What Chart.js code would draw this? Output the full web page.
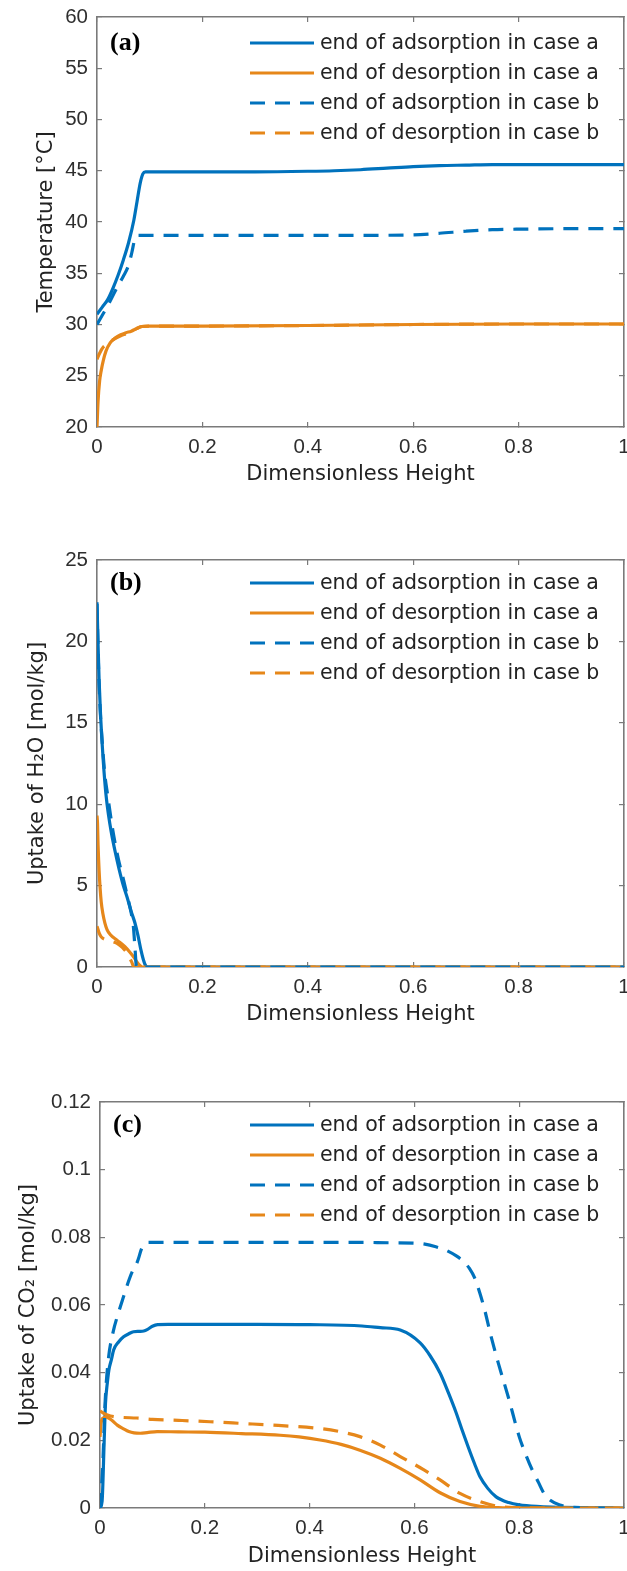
<!DOCTYPE html>
<html>
<head>
<meta charset="utf-8">
<script src="https://cdn.jsdelivr.net/npm/chart.js@4"></script>
<style>
html,body{margin:0;padding:0;background:#fff;}
#wrap{position:relative;width:627px;height:1571px;overflow:hidden;background:#fff;}
canvas{position:absolute;left:0;}
</style>
</head>
<body>
<div id="wrap">
<canvas id="ca" width="627" height="510" style="top:0px;width:627px;height:510px"></canvas>
<canvas id="cb" width="627" height="530" style="top:510px;width:627px;height:530px"></canvas>
<canvas id="cc" width="627" height="531" style="top:1040px;width:627px;height:531px"></canvas>
</div>
<script>
// ---------- tick labels ----------
const xTickValues = [0, 0.2, 0.4, 0.6, 0.8, 1];
const xTickLabels = ['0', '0.2', '0.4', '0.6', '0.8', '1'];
const tempTickValues = [20, 25, 30, 35, 40, 45, 50, 55, 60];
const tempTickLabels = ['20', '25', '30', '35', '40', '45', '50', '55', '60'];
const h2oTickValues = [0, 5, 10, 15, 20, 25];
const h2oTickLabels = ['0', '5', '10', '15', '20', '25'];
const co2TickValues = [0, 0.02, 0.04, 0.06, 0.08, 0.1, 0.12];
const co2TickLabels = ['0', '0.02', '0.04', '0.06', '0.08', '0.1', '0.12'];

// ---------- series names ----------
const seriesLabels = [
  'end of adsorption in case a',
  'end of desorption in case a',
  'end of adsorption in case b',
  'end of desorption in case b'
];

// ---------- (a) temperature ----------
const tempAdsA_x = [0, 0.01, 0.02, 0.03, 0.04, 0.05, 0.06, 0.07, 0.076, 0.082, 0.087, 0.092, 0.1, 0.2, 0.3, 0.4, 0.45, 0.5, 0.55, 0.6, 0.65, 0.7, 0.75, 0.8, 0.9, 1];
const tempAdsA_y = [31.0, 31.7, 32.4, 33.5, 34.8, 36.3, 38.0, 40.2, 42.0, 43.8, 44.7, 44.9, 44.9, 44.9, 44.9, 44.95, 45.0, 45.1, 45.25, 45.4, 45.5, 45.55, 45.6, 45.6, 45.6, 45.6];
const tempDesA_x = [0, 0.002, 0.005, 0.008, 0.012, 0.017, 0.025, 0.035, 0.045, 0.055, 0.065, 0.075, 0.085, 0.1, 0.2, 0.4, 0.6, 0.8, 1];
const tempDesA_y = [20.0, 22.5, 24.5, 25.5, 26.5, 27.4, 28.2, 28.7, 29.0, 29.2, 29.35, 29.6, 29.8, 29.85, 29.85, 29.9, 30.0, 30.05, 30.05];
const tempAdsB_x = [0, 0.01, 0.02, 0.03, 0.04, 0.05, 0.06, 0.066, 0.072, 0.077, 0.1, 0.2, 0.3, 0.4, 0.5, 0.6, 0.65, 0.7, 0.75, 0.8, 0.9, 1];
const tempAdsB_y = [30.0, 30.9, 31.8, 32.8, 33.8, 34.7, 35.8, 37.0, 38.4, 38.7, 38.7, 38.7, 38.7, 38.7, 38.7, 38.75, 38.9, 39.1, 39.25, 39.3, 39.35, 39.35];
const tempDesB_x = [0, 0.005, 0.012, 0.02, 0.03, 0.045, 0.06, 0.075, 0.085, 0.1, 0.2, 0.4, 0.6, 0.8, 1];
const tempDesB_y = [26.6, 27.2, 27.8, 28.1, 28.5, 28.9, 29.2, 29.6, 29.8, 29.85, 29.85, 29.9, 30.0, 30.05, 30.05];

// ---------- (b) H2O uptake ----------
const h2oAdsA_x = [0, 0.002, 0.004, 0.007, 0.012, 0.017, 0.022, 0.027, 0.035, 0.042, 0.05, 0.057, 0.065, 0.072, 0.078, 0.083, 0.088, 0.092, 0.095, 0.1, 0.2, 0.4, 0.6, 0.8, 1];
const h2oAdsA_y = [22.4, 19.8, 17.6, 15.3, 12.6, 10.6, 9.3, 8.3, 7.0, 6.0, 5.0, 4.3, 3.4, 2.7, 1.9, 1.1, 0.45, 0.1, 0, 0, 0, 0, 0, 0, 0];
const h2oDesA_x = [0, 0.001, 0.002, 0.004, 0.006, 0.008, 0.011, 0.015, 0.019, 0.025, 0.038, 0.053, 0.064, 0.07, 0.076, 0.082, 0.086, 0.1, 0.2, 0.4, 0.6, 0.8, 1];
const h2oDesA_y = [9.3, 8.8, 7.5, 5.9, 4.8, 4.0, 3.3, 2.7, 2.3, 2.0, 1.65, 1.25, 0.85, 0.6, 0.3, 0.08, 0, 0, 0, 0, 0, 0, 0];
const h2oAdsB_x = [0, 0.002, 0.005, 0.01, 0.015, 0.02, 0.03, 0.04, 0.05, 0.058, 0.065, 0.069, 0.072, 0.075, 0.1, 0.2, 0.4, 0.6, 0.8, 1];
const h2oAdsB_y = [22.3, 19.5, 16.5, 13.8, 11.8, 10.6, 8.4, 6.7, 5.4, 4.3, 3.3, 2.5, 1.2, 0, 0, 0, 0, 0, 0, 0];
const h2oDesB_x = [0, 0.004, 0.008, 0.015, 0.025, 0.038, 0.048, 0.057, 0.062, 0.066, 0.07, 0.1, 0.2, 0.4, 0.6, 0.8, 1];
const h2oDesB_y = [2.5, 2.1, 1.85, 1.7, 1.6, 1.45, 1.2, 0.85, 0.55, 0.3, 0, 0, 0, 0, 0, 0, 0];

// ---------- (c) CO2 uptake ----------
const co2AdsA_x = [0, 0.004, 0.008, 0.0105, 0.014, 0.017, 0.022, 0.026, 0.035, 0.045, 0.055, 0.064, 0.075, 0.0835, 0.09, 0.1, 0.11, 0.13, 0.2, 0.3, 0.4, 0.5, 0.535, 0.573, 0.611, 0.63, 0.649, 0.665, 0.68, 0.69, 0.7025, 0.715, 0.725, 0.74, 0.756, 0.78, 0.8, 0.84, 0.88, 0.92, 1];
const co2AdsA_y = [0, 0.002, 0.02, 0.031, 0.037, 0.0408, 0.044, 0.0467, 0.049, 0.0506, 0.0515, 0.0521, 0.0522, 0.0523, 0.0527, 0.0537, 0.0542, 0.0543, 0.0543, 0.0543, 0.0542, 0.0538, 0.0533, 0.0526, 0.0488, 0.045, 0.0399, 0.034, 0.028, 0.0235, 0.0181, 0.013, 0.0093, 0.0058, 0.0033, 0.0016, 0.0009, 0.0004, 0.0002, 0.0001, 0];
const co2DesA_x = [0, 0.002, 0.005, 0.013, 0.022, 0.033, 0.045, 0.055, 0.065, 0.077, 0.09, 0.109, 0.15, 0.2, 0.27, 0.344, 0.38, 0.42, 0.46, 0.496, 0.535, 0.573, 0.611, 0.649, 0.687, 0.725, 0.76, 0.8, 1];
const co2DesA_y = [0.021, 0.025, 0.0265, 0.0268, 0.026, 0.0245, 0.0234, 0.0226, 0.0222, 0.0221, 0.0223, 0.0226, 0.0225, 0.0224, 0.022, 0.0215, 0.021, 0.0201, 0.0188, 0.0171, 0.0147, 0.0117, 0.0083, 0.0045, 0.0019, 0.0005, 0.0001, 0, 0];
const co2AdsB_x = [0, 0.005, 0.01, 0.016, 0.025, 0.035, 0.045, 0.056, 0.062, 0.068, 0.073, 0.079, 0.085, 0.09, 0.1, 0.2, 0.3, 0.4, 0.5, 0.55, 0.6, 0.62, 0.641, 0.66, 0.68, 0.695, 0.705, 0.715, 0.725, 0.735, 0.745, 0.76, 0.779, 0.8, 0.812, 0.825, 0.837, 0.847, 0.86, 0.878, 0.9, 0.95, 1];
const co2AdsB_y = [0, 0.012, 0.032, 0.044, 0.052, 0.0576, 0.0625, 0.0677, 0.07, 0.0715, 0.0735, 0.0765, 0.078, 0.0785, 0.0785, 0.0785, 0.0785, 0.0785, 0.0785, 0.0784, 0.0783, 0.078, 0.0772, 0.0762, 0.0745, 0.0727, 0.0708, 0.068, 0.0635, 0.058, 0.0515, 0.0429, 0.0329, 0.0211, 0.016, 0.0112, 0.0075, 0.0044, 0.0022, 0.0009, 0.0002, 0, 0];
const co2DesB_x = [0, 0.005, 0.01, 0.02, 0.04, 0.07, 0.1, 0.15, 0.21, 0.27, 0.34, 0.42, 0.46, 0.496, 0.535, 0.573, 0.619, 0.649, 0.687, 0.725, 0.763, 0.8, 0.85, 1];
const co2DesB_y = [0.0287, 0.0282, 0.0277, 0.0272, 0.0268, 0.0266, 0.0262, 0.0259, 0.0255, 0.025, 0.0244, 0.0235, 0.0225, 0.0211, 0.0186, 0.0152, 0.0112, 0.0083, 0.0043, 0.0019, 0.0004, 0.0001, 0, 0];

// ---------- styles ----------
const BLUE = '#0072BD';
const ORANGE = '#E6871A';
const DASH = [15, 10];
const AXIS = '#7a7a7a';
const TICKC = '#2e2e2e';
const TEXTC = '#222222';
const TICKLEN = 5;

const legendPlugin = {
  id: 'matlabLegend',
  afterDatasetsDraw(chart, args, opts) {
    const ctx = chart.ctx;
    const area = chart.chartArea;
    ctx.save();
    const dsets = chart.data.datasets;
    for (let i = 0; i < dsets.length; i++) {
      const ds = dsets[i];
      const y = area.top + opts.rowTop + i * opts.rowH;
      ctx.strokeStyle = ds.borderColor;
      ctx.lineWidth = ds.borderWidth;
      ctx.setLineDash(ds.borderDash || []);
      ctx.beginPath();
      ctx.moveTo(area.right - 374, y);
      ctx.lineTo(area.right - 310, y);
      ctx.stroke();
      ctx.setLineDash([]);
      ctx.fillStyle = TEXTC;
      ctx.font = '20.5px "DejaVu Sans"';
      ctx.textBaseline = 'middle';
      ctx.textAlign = 'left';
      ctx.fillText(ds.label, area.right - 304, y + 1);
    }
    ctx.fillStyle = '#000';
    ctx.font = 'bold 26px "Liberation Serif"';
    ctx.textBaseline = 'middle';
    ctx.fillText(opts.letter, area.left + 13, area.top + opts.rowTop);
    ctx.restore();
  }
};

function xScale(pos, p) {
  const bottom = pos === 'bottom';
  return {
    type: 'linear', position: pos, min: 0, max: 1,
    afterBuildTicks: s => { s.ticks = xTickValues.map(v => ({value: v})); },
    afterFit: s => { s.height = bottom ? p.xAxisH : 0; s.paddingLeft = 0; s.paddingRight = 0; },
    grid: {display: true, drawOnChartArea: false, drawTicks: true, tickLength: -TICKLEN, color: AXIS, lineWidth: 1.2},
    border: {display: true, color: AXIS, width: 1.6},
    ticks: {
      display: bottom, autoSkip: false, maxRotation: 0, minRotation: 0, padding: 13,
      color: TICKC, font: {family: 'Liberation Sans', size: 20.5},
      callback: (v, i) => xTickLabels[i]
    },
    title: bottom ? {display: true, text: 'Dimensionless Height', color: TEXTC,
      font: {family: 'DejaVu Sans', size: 21}, padding: {top: 0, bottom: p.xTitlePad}} : {display: false}
  };
}

function yScale(pos, p) {
  const left = pos === 'left';
  return {
    type: 'linear', position: pos, min: p.yMin, max: p.yMax,
    afterBuildTicks: s => { s.ticks = p.yTicks.map(v => ({value: v})); },
    afterFit: s => { s.width = left ? p.yAxisW : 0; s.paddingTop = 0; s.paddingBottom = 0; },
    grid: {display: true, drawOnChartArea: false, drawTicks: true, tickLength: -TICKLEN, color: AXIS, lineWidth: 1.2},
    border: {display: true, color: AXIS, width: 1.6},
    ticks: {
      display: left, autoSkip: false, padding: 14,
      color: TICKC, font: {family: 'Liberation Sans', size: 20.5},
      callback: (v, i) => p.yLabels[i]
    },
    title: left ? {display: true, text: p.yTitle, color: TEXTC,
      font: {family: 'DejaVu Sans', size: 21}, padding: {top: p.yTitlePad, bottom: 0}} : {display: false}
  };
}

function makePanel(canvasId, p) {
  const styles = [
    {color: BLUE, dash: []},
    {color: ORANGE, dash: []},
    {color: BLUE, dash: DASH},
    {color: ORANGE, dash: DASH}
  ];
  const datasets = p.series.map((s, i) => ({
    label: seriesLabels[i],
    data: s[0].map((x, j) => ({x: x, y: s[1][j]})),
    borderColor: styles[i].color,
    backgroundColor: styles[i].color,
    borderWidth: 3.2,
    borderDash: styles[i].dash,
    borderJoinStyle: 'round',
    pointRadius: 0,
    pointHoverRadius: 0,
    fill: false,
    cubicInterpolationMode: 'monotone',
    order: p.order[i]
  }));
  return new Chart(document.getElementById(canvasId), {
    type: 'line',
    data: {datasets: datasets},
    options: {
      responsive: false,
      animation: false,
      events: [],
      layout: {padding: {left: 0, right: 3, top: p.padTop, bottom: 0}},
      scales: {
        x: xScale('bottom', p),
        x2: xScale('top', p),
        y: yScale('left', p),
        y2: yScale('right', p)
      },
      plugins: {
        legend: {display: false},
        tooltip: {enabled: false},
        matlabLegend: {rowTop: p.rowTop, rowH: 30, letter: p.letter}
      }
    },
    plugins: [legendPlugin]
  });
}

makePanel('ca', {
  series: [[tempAdsA_x, tempAdsA_y], [tempDesA_x, tempDesA_y], [tempAdsB_x, tempAdsB_y], [tempDesB_x, tempDesB_y]],
  order: [3, 2, 1, 0],
  yMin: 20, yMax: 60, yTicks: tempTickValues, yLabels: tempTickLabels,
  yTitle: 'Temperature [°C]', yTitlePad: 34.4, yAxisW: 97,
  xAxisH: 83, xTitlePad: 22.4, padTop: 17, rowTop: 26, letter: '(a)'
});
makePanel('cb', {
  series: [[h2oAdsA_x, h2oAdsA_y], [h2oDesA_x, h2oDesA_y], [h2oAdsB_x, h2oAdsB_y], [h2oDesB_x, h2oDesB_y]],
  order: [3, 2, 0, 1],
  yMin: 0, yMax: 25, yTicks: h2oTickValues, yLabels: h2oTickLabels,
  yTitle: 'Uptake of H\u2082O [mol/kg]', yTitlePad: 25.4, yAxisW: 97,
  xAxisH: 73, xTitlePad: 12.4, padTop: 50, rowTop: 23, letter: '(b)'
});
makePanel('cc', {
  series: [[co2AdsA_x, co2AdsA_y], [co2DesA_x, co2DesA_y], [co2AdsB_x, co2AdsB_y], [co2DesB_x, co2DesB_y]],
  order: [3, 2, 1, 0],
  yMin: 0, yMax: 0.12, yTicks: co2TickValues, yLabels: co2TickLabels,
  yTitle: 'Uptake of CO\u2082 [mol/kg]', yTitlePad: 16.4, yAxisW: 100,
  xAxisH: 63, xTitlePad: 1.4, padTop: 62, rowTop: 23, letter: '(c)'
});
</script>
</body>
</html>
